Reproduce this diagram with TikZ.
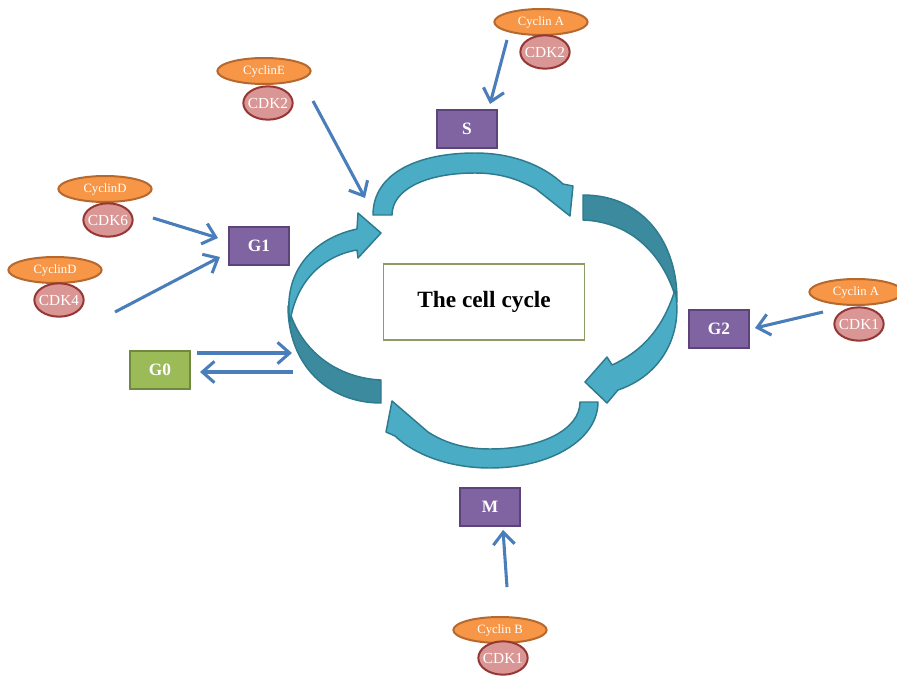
\documentclass[tikz,border=0pt]{standalone}
\usepackage{fontspec}
\setmainfont{Liberation Serif}
\usetikzlibrary{arrows.meta,shapes.geometric}

\definecolor{phasefill}{HTML}{8064A2}
\definecolor{phaseline}{HTML}{5C4379}
\definecolor{restfill}{HTML}{9BBB59}
\definecolor{restline}{HTML}{71893F}
\definecolor{cycfill}{HTML}{F79646}
\definecolor{cycline}{HTML}{B5692F}
\definecolor{cdkfill}{HTML}{D99694}
\definecolor{cdkline}{HTML}{953735}
\definecolor{teallight}{HTML}{4BACC6}
\definecolor{tealdark}{HTML}{3B8A9D}
\definecolor{tealline}{HTML}{2E7A8E}
\definecolor{arblue}{HTML}{4A7EBB}
\definecolor{boxline}{HTML}{8C9C64}

\begin{document}
\begin{tikzpicture}[
  x=0.75pt, y=-0.75pt,
  phase/.style={draw=phaseline, fill=phasefill, line width=1.5pt, text=white,
                font=\bfseries\fontsize{13}{15}\selectfont,
                minimum width=45pt, minimum height=28pt, inner sep=0pt},
  rest/.style={phase, draw=restline, fill=restfill},
  cyclin/.style={ellipse, draw=cycline, fill=cycfill, line width=1.5pt,
                 text=white, font=\fontsize{9.5}{10}\selectfont,
                 minimum width=70pt, minimum height=19.5pt, inner sep=0pt},
  cdk/.style={ellipse, draw=cdkline, fill=cdkfill, line width=1.5pt,
              text=white, font=\fontsize{11.5}{12}\selectfont,
              minimum width=37pt, minimum height=25pt, inner xsep=-2pt, inner ysep=0pt},
  ribbon/.style={draw=tealline, line width=1.1pt, line join=round},
  ar/.style={-{Straight Barb[length=3.2mm, width=5.6mm]}, arblue,
             line width=2.3pt},
]
\useasboundingbox (0,0) rectangle (897,678);

% ---------------- the cycle ribbons ----------------
% top: G1 -> S -> G2
\filldraw[ribbon, fill=teallight] (373,215) .. controls (373,172) and (420,153) .. (475,153)
  .. controls (515,153) and (545,167) .. (563,184) -- (573,186) -- (570,216) -- (536,189)
  .. controls (518,179) and (500,173) .. (475,173) .. controls (425,173) and (392,190) .. (392,215) -- cycle;
% right: G2 -> M
\filldraw[ribbon, fill=tealdark] (583,195) .. controls (645,195) and (678,245) .. (677,302)
  .. controls (664,255) and (632,222) .. (583,220) -- cycle;
\filldraw[ribbon, fill=teallight] (675,290) .. controls (684,336) and (660,376) .. (618,390)
  -- (607,403) -- (585,382) -- (607,357) -- (612,365)
  .. controls (645,350) and (664,325) .. (675,290) -- cycle;
% bottom: M -> G1
\filldraw[ribbon, fill=teallight] (598,402) .. controls (598,440) and (550,468) .. (490,468)
  .. controls (450,468) and (415,455) .. (395,436) -- (386,432) -- (392,401) -- (428,432)
  .. controls (445,443) and (465,449) .. (490,449) .. controls (540,449) and (580,430) .. (580,402) -- cycle;
% left: G1 -> S entry
\filldraw[ribbon, fill=tealdark] (381,403) .. controls (328,403) and (288,365) .. (288,306)
  .. controls (300,352) and (338,378) .. (381,380) -- cycle;
\filldraw[ribbon, fill=teallight] (290,322) .. controls (282,270) and (315,238) .. (357,229)
  -- (358,213) -- (381,233) -- (358,258) -- (357,250)
  .. controls (322,256) and (296,282) .. (290,322) -- cycle;

% centre label
\node[draw=boxline, fill=white, line width=0.8pt, minimum width=151pt, minimum height=57pt,
      font=\bfseries\fontsize{17.5}{20}\selectfont] (cycle) at (484,302) {The cell cycle};

% ---------------- phases ----------------
\node[phase] (s)  at (467,129) {S};
\node[phase] (g1) at (259,246) {G1};
\node[phase] (g2) at (719,329) {G2};
\node[phase] (m)  at (490,507) {M};
\node[rest]  (g0) at (160,370) {G0};

% ---------------- cyclin / CDK complexes ----------------
\node[cyclin] (cycA) at (541,22)  {Cyclin A};
\node[cdk]    (cdkA) at (545,52)  {CDK2};
\node[cyclin] (cycE) at (264,71)  {CyclinE};
\node[cdk]    (cdkE) at (268,103) {CDK2};
\node[cyclin] (cycD) at (105,189) {CyclinD};
\node[cdk]    (cdkD) at (108,220) {CDK6};
\node[cyclin] (cycDb) at (55,270) {CyclinD};
\node[cdk]    (cdkDb) at (59,300) {CDK4};
\node[cyclin] (cycAr) at (856,292) {Cyclin A};
\node[cdk]    (cdkAr) at (859,324) {CDK1};
\node[cyclin] (cycB) at (500,630) {Cyclin B};
\node[cdk]    (cdkB) at (503,658) {CDK1};

% arrow ends
\coordinate (aTail) at (507,40);   \coordinate (aHead) at (490,104);
\coordinate (eTail) at (313,101);  \coordinate (eHead) at (365,198);
\coordinate (dTail) at (153,218);  \coordinate (dHead) at (218,238);
\coordinate (dbTail) at (115,312); \coordinate (dbHead) at (220,257);
\coordinate (inTail) at (197,353); \coordinate (inHead) at (292,353);
\coordinate (outTail) at (293,372); \coordinate (outHead) at (200,372);
\coordinate (arTail) at (823,312); \coordinate (arHead) at (755,328);
\coordinate (bTail) at (507,587);  \coordinate (bHead) at (503,530);

\draw[ar] (aTail) -- (aHead);
\draw[ar] (eTail) -- (eHead);
\draw[ar] (dTail) -- (dHead);
\draw[ar] (dbTail) -- (dbHead);
\draw[ar] (inTail) -- (inHead);
\draw[ar] (outTail) -- (outHead);
\draw[ar] (arTail) -- (arHead);
\draw[ar] (bTail) -- (bHead);
\end{tikzpicture}
\end{document}
